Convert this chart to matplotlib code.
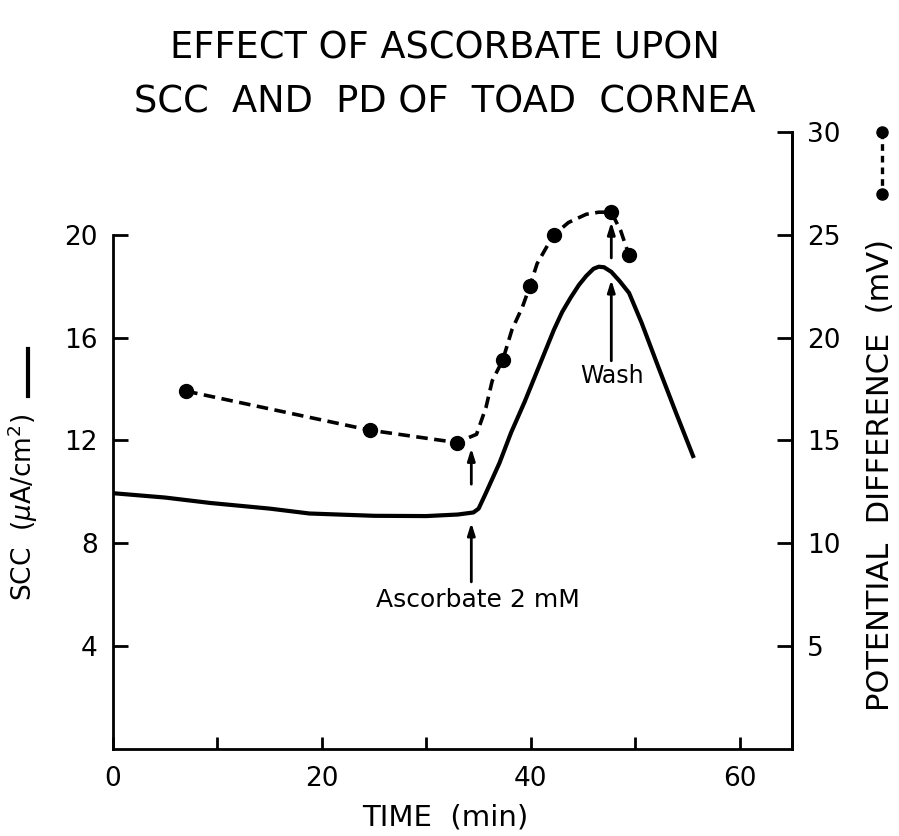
import matplotlib
matplotlib.use('Agg')
import matplotlib.pyplot as plt
from matplotlib.lines import Line2D

# SCC trace (uA/cm2)
scc_time = [0, 5, 9.3, 15, 18.8, 25, 30, 33, 34.5, 35.0, 35.7, 37.0, 38.1, 39.4, 40.8,
            42.2, 43.0, 43.8, 44.6, 45.3, 46.0, 46.5, 47.0, 47.7, 48.5, 49.4, 50.6, 52.2, 53.9, 55.6]
scc_vals = [9.95, 9.78, 9.57, 9.35, 9.16, 9.07, 9.06, 9.12, 9.2, 9.35, 9.96, 11.13, 12.3, 13.5, 14.9,
            16.3, 17.0, 17.55, 18.05, 18.4, 18.68, 18.76, 18.74, 18.56, 18.2, 17.74, 16.58, 14.86, 13.07, 11.32]

# PD measurements (mV)
pd_time = [7.0, 24.6, 32.9, 37.3, 39.9, 42.2, 47.7, 49.4]
pd_vals = [17.4, 15.5, 14.9, 18.9, 22.5, 25.0, 26.1, 24.0]

# hand-drawn dashed curve through the PD points
pd_curve_time = [7.0, 24.6, 32.9, 34.8, 35.7, 36.3, 37.3, 38.2, 39.2, 39.9, 40.6, 41.5,
                 42.2, 43.6, 45.3, 46.5, 47.7, 48.6, 49.4]
pd_curve_vals = [17.4, 15.5, 14.9, 15.3, 16.6, 17.9, 18.9, 20.4, 21.5, 22.5, 23.6, 24.4,
                 25.0, 25.6, 26.0, 26.1, 26.1, 25.2, 24.0]

x_major = [0, 20, 40, 60]
x_minor = [10, 30, 50]
scc_ticks = [4, 8, 12, 16, 20]
pd_ticks = [5, 10, 15, 20, 25, 30]

fig = plt.figure(figsize=(8.99, 8.36), dpi=100)
ax = fig.add_axes([0.1257, 0.1041, 0.7553, 0.738])
ax2 = ax.twinx()

ax.plot(scc_time, scc_vals, color='black', lw=3.0, solid_capstyle='butt')
ax2.plot(pd_curve_time, pd_curve_vals, color='black', lw=2.6, linestyle=(0, (3.2, 1.8)))
ax2.plot(pd_time, pd_vals, 'o', color='black', markersize=10)

ax.set_xlim(0, 65)
ax.set_ylim(0, 24)
ax2.set_ylim(0, 30)

ax.set_xticks(x_major)
ax.set_xticks(x_minor, minor=True)
ax.set_yticks(scc_ticks)
ax2.set_yticks(pd_ticks)

for a in (ax, ax2):
    for s in a.spines.values():
        s.set_linewidth(2.0)
    a.spines['top'].set_visible(False)
ax.spines['left'].set_bounds(0, 20)
ax2.spines['left'].set_visible(False)
ax2.spines['bottom'].set_visible(False)

ax.tick_params(axis='x', which='both', direction='in', length=9, width=2, pad=12, labelsize=19)
ax.tick_params(axis='y', direction='in', length=11, width=2, pad=11, labelsize=19)
ax2.tick_params(axis='y', direction='in', length=11, width=2, pad=11, labelsize=19)

ax.set_xlabel('TIME  (min)', fontsize=21)
ax.xaxis.set_label_coords(0.49, -0.088)
ax.set_ylabel('SCC  ($\\mu$A/cm$^2$)', fontsize=19)
ax.yaxis.set_label_coords(-0.1075, 0.392)
ax2.set_ylabel('POTENTIAL  DIFFERENCE  (mV)', fontsize=22, rotation=90)
ax2.yaxis.set_label_coords(1.109, 0.444)

# arrows and notes
arrow = dict(arrowstyle='-|>,head_length=0.7,head_width=0.22', lw=2, color='black',
             shrinkA=0, shrinkB=0)
ax.annotate('', xy=(34.3, 11.7), xytext=(34.3, 10.3), arrowprops=arrow)
ax.annotate('', xy=(34.3, 8.8), xytext=(34.3, 6.5), arrowprops=arrow)
ax.annotate('', xy=(47.7, 18.25), xytext=(47.7, 15.1), arrowprops=arrow)
ax.annotate('', xy=(47.7, 20.5), xytext=(47.7, 19.1), arrowprops=arrow)
ax.text(34.9, 5.8, 'Ascorbate 2 mM', ha='center', va='center', fontsize=18)
ax.text(47.8, 14.5, 'Wash', ha='center', va='center', fontsize=17)

# line keys next to the axis titles
fig.add_artist(Line2D([0.031, 0.031], [0.5825, 0.526], color='black', lw=3,
                      transform=fig.transFigure))
fig.add_artist(Line2D([0.981, 0.981], [0.842, 0.768], color='black', lw=2.4,
                      linestyle=(0, (2, 1.5)), transform=fig.transFigure))
fig.add_artist(Line2D([0.981, 0.981], [0.842, 0.768], color='black', lw=0,
                      marker='o', markersize=8, transform=fig.transFigure))

fig.text(0.495, 0.91, 'EFFECT OF ASCORBATE UPON\nSCC  AND  PD OF  TOAD  CORNEA',
         ha='center', va='center', fontsize=26.5, linespacing=1.6)

fig.savefig('out.png', dpi=100)
